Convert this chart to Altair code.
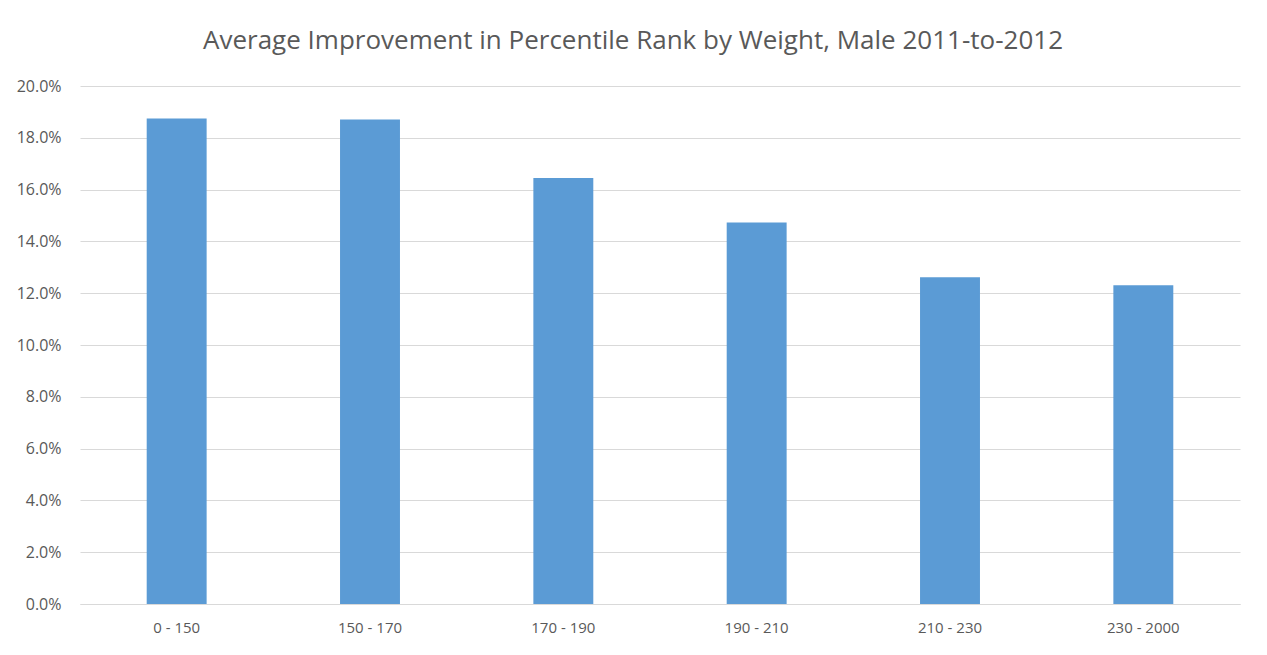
import altair as alt
import pandas as pd

categories = ["0 - 150", "150 - 170", "170 - 190", "190 - 210", "210 - 230", "230 - 2000"]
values = [0.1875, 0.1871, 0.1645, 0.1473, 0.1262, 0.1231]
y_ticks = [0.0, 0.02, 0.04, 0.06, 0.08, 0.10, 0.12, 0.14, 0.16, 0.18, 0.20]

df = pd.DataFrame({"weight": categories, "improvement": values})

FONT = "Open Sans"
TEXT = "#595959"
GRID = "#D9D9D9"

chart = alt.Chart(df).mark_bar(color="#5B9BD5").encode(
    x=alt.X("weight:N", sort=categories, title=None,
            scale=alt.Scale(paddingInner=0.69, paddingOuter=0.345),
            axis=alt.Axis(labelAngle=0, ticks=False, grid=False, domainColor=GRID, domainWidth=1,
                          labelColor=TEXT, labelFont=FONT, labelFontSize=15, labelPadding=16)),
    y=alt.Y("improvement:Q", title=None,
            scale=alt.Scale(domain=[0, 0.2], nice=False),
            axis=alt.Axis(values=y_ticks, format=".1%", ticks=False, domain=False,
                          gridColor=GRID, gridWidth=1, labelColor=TEXT, labelFont=FONT,
                          labelFontSize=16, labelPadding=19)),
).properties(
    width=1160, height=518,
    background="white",
    title=alt.TitleParams("Average Improvement in Percentile Rank by Weight, Male 2011-to-2012",
                          font=FONT, fontSize=26, fontWeight="normal", color=TEXT, offset=24, dx=-27),
    autosize=alt.AutoSizeParams(type="none"),
    padding={"left": 72, "top": 78, "right": 19, "bottom": 40},
).configure_view(strokeWidth=0, stroke="transparent")

chart.save("out.html", embed_options={"renderer": "svg", "actions": False})
